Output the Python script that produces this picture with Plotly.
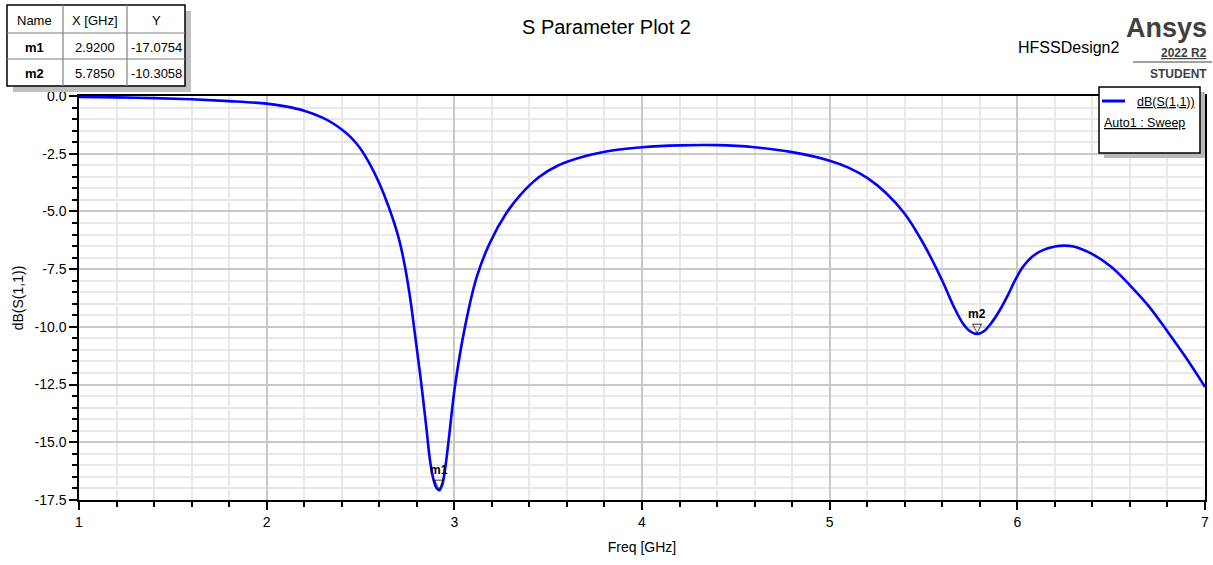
import plotly.graph_objects as go

# ---------------- data ----------------
freq = [1.0, 1.2, 1.4, 1.6, 1.8, 2.0, 2.1, 2.2, 2.3, 2.35, 2.4, 2.45, 2.5, 2.55, 2.6,
        2.65, 2.7, 2.73, 2.76, 2.79, 2.82, 2.85, 2.87, 2.89, 2.905, 2.92, 2.935, 2.95,
        2.97, 3.003, 3.057, 3.119, 3.19, 3.279, 3.35, 3.45, 3.55, 3.7, 3.85, 4.0, 4.2,
        4.4, 4.6, 4.8, 5.0, 5.1, 5.2, 5.3, 5.4, 5.5, 5.6, 5.66, 5.71, 5.75, 5.785,
        5.82, 5.86, 5.907, 5.95, 5.987, 6.03, 6.08, 6.13, 6.2, 6.25, 6.3, 6.4, 6.5,
        6.6, 6.7, 6.8, 6.9, 7.0]
s11_db = [-0.04, -0.06, -0.09, -0.14, -0.22, -0.33, -0.45, -0.64, -0.95, -1.17, -1.45,
          -1.8, -2.28, -2.95, -3.78, -4.8, -6.05, -7.1, -8.5, -10.3, -12.2, -14.3,
          -15.76, -16.65, -16.98, -17.0754, -16.85, -16.2, -14.9, -12.59, -9.99, -7.85,
          -6.35, -5.05, -4.3, -3.52, -3.02, -2.6, -2.35, -2.22, -2.14, -2.13, -2.22,
          -2.43, -2.8, -3.1, -3.55, -4.2, -5.1, -6.4, -8.0, -9.1, -9.85, -10.2,
          -10.3058, -10.2, -9.85, -9.27, -8.62, -8.0, -7.4, -6.95, -6.7, -6.52, -6.48,
          -6.52, -6.85, -7.4, -8.2, -9.1, -10.2, -11.35, -12.6]

marker_names = ["m1", "m2"]
marker_x = [2.9200, 5.7850]
marker_y = [-17.0754, -10.3058]

x_ticks = [1, 2, 3, 4, 5, 6, 7]
y_ticks = [0.0, -2.5, -5.0, -7.5, -10.0, -12.5, -15.0, -17.5]

# ---------------- layout helpers ----------------
W, H = 1213, 565
L, R, T, B = 79, 1205, 96, 500
FONT = "Arial, Liberation Sans, sans-serif"


def px(x):
    return (x - L) / (R - L)


def py(y):
    return 1 - (y - T) / (B - T)


fig = go.Figure()

fig.add_trace(go.Scatter(
    x=freq, y=s11_db, mode="lines",
    line=dict(color="#0000ff", width=2.6, shape="spline", smoothing=1.0),
    showlegend=False, hoverinfo="skip"))

shapes = []
annotations = []

# markers (triangle sitting on the point, label above)
for n, xv, yv in zip(marker_names, marker_x, marker_y):
    annotations.append(dict(x=xv, y=yv, xref="x", yref="y", text="\u25BD", showarrow=False,
                            xanchor="center", yanchor="bottom", yshift=-3,
                            font=dict(family="DejaVu Sans", size=13, color="black")))
    annotations.append(dict(x=xv, y=yv, xref="x", yref="y", text="<b>%s</b>" % n, showarrow=False,
                            xanchor="center", yanchor="bottom", yshift=11,
                            font=dict(family=FONT, size=12, color="black")))

# marker table
tx0, tx1, ty0, ty1 = 7, 185, 5, 86
shapes.append(dict(type="rect", xref="paper", yref="paper", x0=px(tx0 + 6), x1=px(tx1 + 6),
                   y0=py(ty1 + 6), y1=py(ty0 + 6), fillcolor="#c0c0c0", line=dict(width=0), layer="above"))
shapes.append(dict(type="rect", xref="paper", yref="paper", x0=px(tx0), x1=px(tx1),
                   y0=py(ty1), y1=py(ty0), fillcolor="white", line=dict(width=1.5, color="black"), layer="above"))
cols = [7, 63, 127, 185]
rows = [5, 33, 59, 86]
for c in cols[1:-1]:
    shapes.append(dict(type="line", xref="paper", yref="paper", x0=px(c), x1=px(c), y0=py(ty0), y1=py(ty1),
                       line=dict(width=1.2, color="#808080"), layer="above"))
for r in rows[1:-1]:
    shapes.append(dict(type="line", xref="paper", yref="paper", x0=px(tx0), x1=px(tx1), y0=py(r), y1=py(r),
                       line=dict(width=1.2, color="#808080"), layer="above"))
table = [["Name", "X [GHz]", "Y"]]
for n, xv, yv in zip(marker_names, marker_x, marker_y):
    table.append(["<b>%s</b>" % n, "%.4f" % xv, "%.4f" % yv])
for i, row in enumerate(table):
    for j, cell in enumerate(row):
        annotations.append(dict(xref="paper", yref="paper", x=px((cols[j] + cols[j + 1]) / 2),
                                y=py((rows[i] + rows[i + 1]) / 2 + 1), text=cell, showarrow=False,
                                font=dict(family=FONT, size=13, color="black"),
                                xanchor="center", yanchor="middle"))

# legend box
lx0, lx1, ly0, ly1 = 1099, 1200, 87, 153
shapes.append(dict(type="rect", xref="paper", yref="paper", x0=px(lx0 + 5), x1=px(lx1 + 5),
                   y0=py(ly1 + 5), y1=py(ly0 + 5), fillcolor="#b8b8b8", line=dict(width=0), layer="above"))
shapes.append(dict(type="rect", xref="paper", yref="paper", x0=px(lx0), x1=px(lx1),
                   y0=py(ly1), y1=py(ly0), fillcolor="white", line=dict(width=1.5, color="black"), layer="above"))
shapes.append(dict(type="line", xref="paper", yref="paper", x0=px(1102), x1=px(1125), y0=py(101), y1=py(101),
                   line=dict(width=3, color="#0000ff"), layer="above"))
annotations.append(dict(xref="paper", yref="paper", x=px(1197), y=py(102), text="<u>dB(S(1,1))</u>",
                        showarrow=False, xanchor="right", yanchor="middle",
                        font=dict(family=FONT, size=12.5, color="black")))
annotations.append(dict(xref="paper", yref="paper", x=px(1102), y=py(123), text="<u>Auto1 : Sweep</u>",
                        showarrow=False, xanchor="left", yanchor="middle",
                        font=dict(family=FONT, size=12.5, color="black")))

# title & branding
annotations.append(dict(xref="paper", yref="paper", x=px(606), y=py(27), text="S Parameter Plot 2",
                        showarrow=False, xanchor="center", yanchor="middle",
                        font=dict(family=FONT, size=20, color="black")))
annotations.append(dict(xref="paper", yref="paper", x=px(1121), y=py(47), text="HFSSDesign2",
                        showarrow=False, xanchor="right", yanchor="middle",
                        font=dict(family=FONT, size=16, color="black")))
annotations.append(dict(xref="paper", yref="paper", x=px(1209), y=py(28), text="<b>Ansys</b>",
                        showarrow=False, xanchor="right", yanchor="middle",
                        font=dict(family=FONT, size=27, color="#404040")))
annotations.append(dict(xref="paper", yref="paper", x=px(1209), y=py(53), text="<b><u>2022 R2</u></b>",
                        showarrow=False, xanchor="right", yanchor="middle",
                        font=dict(family=FONT, size=12, color="#404040")))
shapes.append(dict(type="line", xref="paper", yref="paper", x0=px(1133), x1=px(1212), y0=py(62), y1=py(62),
                   line=dict(width=1, color="#404040"), layer="above"))
annotations.append(dict(xref="paper", yref="paper", x=px(1209), y=py(74), text="<b>STUDENT</b>",
                        showarrow=False, xanchor="right", yanchor="middle",
                        font=dict(family=FONT, size=12, color="#404040")))

fig.update_layout(
    width=W, height=H, margin=dict(l=L, r=W - R, t=T, b=H - B, autoexpand=False),
    paper_bgcolor="white", plot_bgcolor="white",
    font=dict(family=FONT, size=14, color="black"),
    shapes=shapes, annotations=annotations, showlegend=False,
)
fig.update_xaxes(
    range=[1, 7], tickvals=x_ticks, ticktext=[str(v) for v in x_ticks],
    showline=True, linecolor="black", linewidth=1.5, mirror=True,
    ticks="outside", ticklen=8, tickwidth=1.5, tickcolor="black",
    showgrid=True, gridcolor="#c8c8c8", gridwidth=1.5, zeroline=False,
    minor=dict(dtick=0.2, tick0=1, ticks="outside", ticklen=5, tickwidth=1.5, tickcolor="black",
               showgrid=True, gridcolor="#e8e8e8", gridwidth=1.5),
    title=dict(text="Freq [GHz]", font=dict(family=FONT, size=14), standoff=14),
    tickfont=dict(family=FONT, size=14),
)
fig.update_yaxes(
    range=[-17.5, 0], tickvals=y_ticks, ticktext=["%.1f" % v for v in y_ticks],
    showline=True, linecolor="black", linewidth=1.5, mirror=True,
    ticks="outside", ticklen=8, tickwidth=1.5, tickcolor="black",
    showgrid=True, gridcolor="#c8c8c8", gridwidth=1.5, zeroline=False,
    minor=dict(dtick=0.5, tick0=0, ticks="outside", ticklen=5, tickwidth=1.5, tickcolor="black",
               showgrid=True, gridcolor="#e8e8e8", gridwidth=1.5),
    title=dict(text="dB(S(1,1))", font=dict(family=FONT, size=14), standoff=8),
    tickfont=dict(family=FONT, size=14),
)

fig.write_html("out.html")
